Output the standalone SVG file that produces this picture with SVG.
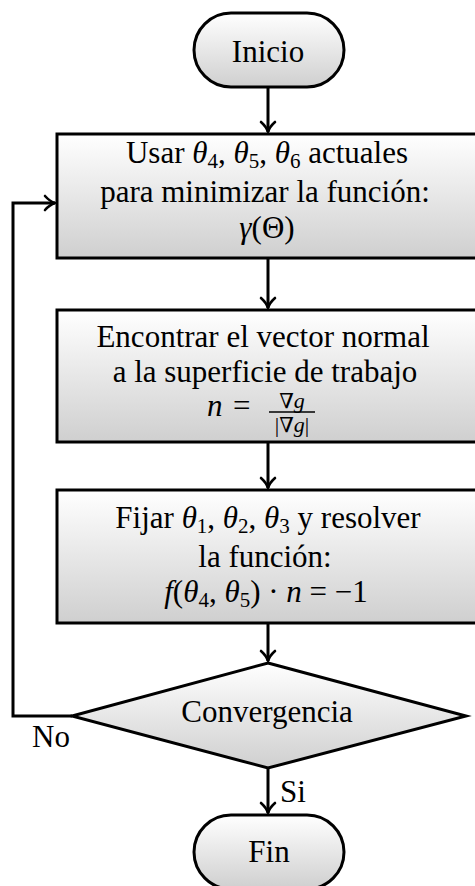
<svg xmlns="http://www.w3.org/2000/svg" width="475" height="886" viewBox="0 0 475 886">
  <defs>
    <linearGradient id="g" x1="0" y1="0" x2="0" y2="1">
      <stop offset="0" stop-color="#ffffff"/>
      <stop offset="1" stop-color="#cfcfcf"/>
    </linearGradient>
    <marker id="arr" markerUnits="userSpaceOnUse" markerWidth="20" markerHeight="20" viewBox="-12 -10 14 20" refX="0" refY="0" orient="auto">
      <path d="M -10,-7 C -6,-2.5 -2,-0.6 0,0 C -2,0.6 -6,2.5 -10,7" fill="none" stroke="#000" stroke-width="2.6" stroke-linecap="round" stroke-linejoin="round"/>
    </marker>
  </defs>
  <style>
    .shape { fill: url(#g); stroke: #000; stroke-width: 3; }
    .t { font-family: "Liberation Serif", "DejaVu Serif", serif; font-size: 31px; fill: #000; }
    .c { text-anchor: middle; }
    .m { font-style: italic; }
    .sub { font-size: 21px; font-style: normal; }
    .fr { font-family: "Liberation Serif", "DejaVu Serif", serif; font-size: 22px; fill: #000; text-anchor: middle; }
    .nab { font-family: "DejaVu Serif", serif; font-size: 21px; }
    .conn { fill: none; stroke: #000; stroke-width: 3; }
  </style>

  <g id="connectors">
    <line class="conn" x1="268" y1="87" x2="268" y2="132" marker-end="url(#arr)"/>
    <line class="conn" x1="268" y1="258" x2="268" y2="308" marker-end="url(#arr)"/>
    <line class="conn" x1="268" y1="442" x2="268" y2="488" marker-end="url(#arr)"/>
    <line class="conn" x1="268" y1="623" x2="268" y2="661" marker-end="url(#arr)"/>
    <line class="conn" x1="268" y1="768" x2="268" y2="813" marker-end="url(#arr)"/>
    <polyline class="conn" points="72,716 13,716 13,203 55,203" marker-end="url(#arr)"/>
    <text class="t" x="32" y="747">No</text>
    <text class="t" x="280" y="802">Si</text>
  </g>

  <g id="inicio">
    <rect class="shape" x="194" y="13" width="150" height="74" rx="37" ry="37"/>
    <text class="t c" x="268" y="62">Inicio</text>
  </g>

  <g id="box1">
    <rect class="shape" x="57" y="134" width="424" height="124"/>
    <text class="t c" x="267" y="163">Usar <tspan class="m">θ</tspan><tspan class="sub" dy="5">4</tspan><tspan dy="-5">, </tspan><tspan class="m">θ</tspan><tspan class="sub" dy="5">5</tspan><tspan dy="-5">, </tspan><tspan class="m">θ</tspan><tspan class="sub" dy="5">6</tspan><tspan dy="-5"> actuales</tspan></text>
    <text class="t c" x="265" y="202">para minimizar la función:</text>
    <text class="t c" x="267" y="238"><tspan class="m">γ</tspan>(Θ)</text>
  </g>

  <g id="box2">
    <rect class="shape" x="57" y="310" width="424" height="132"/>
    <text class="t c" x="263" y="347">Encontrar el vector normal</text>
    <text class="t c" x="265" y="382">a la superficie de trabajo</text>
    <text class="t m" x="207" y="416">n</text>
    <text class="t" x="233" y="416">=</text>
    <text class="fr" x="292" y="408"><tspan class="nab">∇</tspan><tspan font-style="italic">g</tspan></text>
    <line x1="269" y1="412" x2="315" y2="412" stroke="#000" stroke-width="1.5"/>
    <text class="fr" x="292" y="432">|<tspan class="nab">∇</tspan><tspan font-style="italic">g</tspan>|</text>
  </g>

  <g id="box3">
    <rect class="shape" x="57" y="490" width="424" height="133"/>
    <text class="t c" x="268" y="528">Fijar <tspan class="m">θ</tspan><tspan class="sub" dy="5">1</tspan><tspan dy="-5">, </tspan><tspan class="m">θ</tspan><tspan class="sub" dy="5">2</tspan><tspan dy="-5">, </tspan><tspan class="m">θ</tspan><tspan class="sub" dy="5">3</tspan><tspan dy="-5"> y resolver</tspan></text>
    <text class="t c" x="265" y="567">la función:</text>
    <text class="t c" x="266" y="602"><tspan class="m">f</tspan>(<tspan class="m">θ</tspan><tspan class="sub" dy="5">4</tspan><tspan dy="-5">, </tspan><tspan class="m">θ</tspan><tspan class="sub" dy="5">5</tspan><tspan dy="-5">) · </tspan><tspan class="m">n</tspan> = −1</text>
  </g>

  <g id="decision">
    <polygon class="shape" points="268,663 466,716 268,768 72,716"/>
    <text class="t c" x="267" y="722">Convergencia</text>
  </g>

  <g id="fin">
    <rect class="shape" x="194" y="815" width="150" height="74" rx="37" ry="37"/>
    <text class="t c" x="269" y="862">Fin</text>
  </g>
</svg>
